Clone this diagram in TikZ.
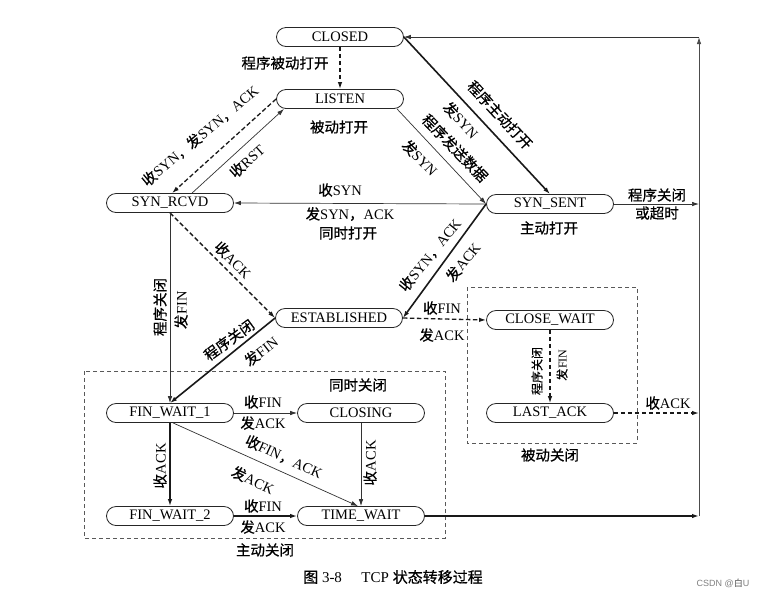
\documentclass[tikz,border=0pt]{standalone}
\usepackage{fontspec}
\setmainfont{Liberation Serif}
\newfontfamily\cjk[FakeBold=0.6]{Noto Sans CJK SC}
\newfontfamily\lsans{Liberation Sans}
\usetikzlibrary{arrows.meta}
\newcommand{\zh}[1]{{\cjk #1}}
\newcommand{\fsA}{\fontsize{14.5}{16}\selectfont}
\newcommand{\fsB}{\fontsize{12}{13}\selectfont}
\begin{document}
\begin{tikzpicture}[x=1pt,y=1pt,
  st/.style={draw=black!85, line width=0.8pt, rounded corners=9.5pt, minimum width=127pt, minimum height=19pt, inner sep=0pt, font=\fsA},
  tip/.style={-{Latex[length=7pt,width=4.5pt]}},
  thinl/.style={tip, line width=0.7pt, draw=black!80},
  thickl/.style={tip, line width=1.6pt, draw=black!90},
  dashl/.style={tip, line width=1.3pt, draw=black!90, dash pattern=on 4.5pt off 2.5pt},
  boxl/.style={draw=black!65, line width=0.8pt, dash pattern=on 4pt off 3pt},
  lab/.style={font=\fsA, inner sep=0pt},
  labs/.style={font=\fsB, inner sep=0pt}
]
\useasboundingbox (0,0) rectangle (765,-598);
\fill[white] (0,0) rectangle (765,-598);

% dashed group boxes
\draw[boxl] (84,-371) rectangle (445,-538);
\draw[boxl] (467,-287) rectangle (637,-443);

% states
\node[st] (closed) at (340,-37) {CLOSED};
\node[st] (listen) at (340,-99) {LISTEN};
\node[st] (synrcvd) at (170,-203) {SYN\_RCVD};
\node[st] (synsent) at (550,-204) {SYN\_SENT};
\node[st] (estab) at (339,-318) {ESTABLISHED};
\node[st] (closewait) at (550,-320) {CLOSE\_WAIT};
\node[st] (lastack) at (550,-413) {LAST\_ACK};
\node[st] (fin1) at (170,-413) {FIN\_WAIT\_1};
\node[st] (closing) at (361,-413) {CLOSING};
\node[st] (fin2) at (170,-516) {FIN\_WAIT\_2};
\node[st] (timewait) at (361,-516) {TIME\_WAIT};

% right-hand return line corners
\coordinate (rA) at (699,-204);
\coordinate (rB) at (699,-413);
\coordinate (rC) at (699,-516);
\coordinate (rT) at (699,-37);

% transitions
\draw[dashl] (closed.south) -- (listen.north);
\draw[dashl] (listen.west) -- ([xshift=2pt]synrcvd.north);
\draw[thinl] ([xshift=22pt]synrcvd.north) -- ([xshift=-56pt]listen.south);
\draw[thinl] ([xshift=57pt]listen.south) -- (synsent.west);
\draw[thickl] (closed.east) -- (synsent.north);
\draw[thinl] (synsent.west) -- (synrcvd.east);
\draw[dashl] (synrcvd.south) -- (estab.west);
\draw[thickl] (synsent.west) -- (estab.east);
\draw[thinl] (synrcvd.south) -- (fin1.north);
\draw[thickl] (estab.west) -- (fin1.north);
\draw[dashl] (estab.east) -- (closewait.west);
\draw[dashl, line width=1.1pt] (closewait.south) -- (lastack.north);
\draw[thinl] (synsent.east) -- (rA);
\draw[dashl] (lastack.east) -- (rB);
\draw[thickl] (timewait.east) -- (rC);
\draw[tip, line width=0.9pt, draw=black!70] (rC) -- (rT);
\draw[thinl] (rT) -- (closed.east);
\draw[thinl] (fin1.east) -- (closing.west);
\draw[thinl] ([xshift=3pt]fin1.south) -- ([xshift=-3pt]timewait.north);
\draw[thickl] (fin1.south) -- (fin2.north);
\draw[thinl] (closing.south) -- (timewait.north);
\draw[thickl] (fin2.east) -- (timewait.west);

% labels
\node[lab] (l1) at (285,-63) {\zh{程序被动打开}};
\node[lab] (l2) at (339,-127) {\zh{被动打开}};
\node[lab, rotate=40] (l3) at (200,-136) {\zh{收}SYN\zh{，发}SYN\zh{，}ACK};
\node[lab, rotate=42] (l4) at (247,-161) {\zh{收}RST};
\node[lab] (l5) at (340,-190) {\zh{收}SYN};
\node[lab] (l6) at (350,-214) {\zh{发}SYN\zh{，}ACK};
\node[lab] (l7) at (348,-233) {\zh{同时打开}};
\node[lab, rotate=-47] (l8) at (500,-115) {\zh{程序主动打开}};
\node[lab, rotate=-47] (l9) at (461,-120) {\zh{发}SYN};
\node[lab, rotate=-46] (l10) at (455,-148) {\zh{程序发送数据}};
\node[lab, rotate=-46] (l11) at (420,-158) {\zh{发}SYN};
\node[lab] (l12) at (657,-195) {\zh{程序关闭}};
\node[lab] (l13) at (657,-213) {\zh{或超时}};
\node[lab] (l14) at (549,-228) {\zh{主动打开}};
\node[lab, rotate=-45] (l15) at (233,-260) {\zh{收}ACK};
\node[lab, rotate=90] (l16) at (160,-307) {\zh{程序关闭}};
\node[lab, rotate=90] (l17) at (181,-310) {\zh{发}FIN};
\node[lab, rotate=36] (l18) at (229,-340) {\zh{程序关闭}};
\node[lab, rotate=38] (l19) at (261,-351) {\zh{发}FIN};
\node[lab, rotate=51] (l20) at (430,-255) {\zh{收}SYN\zh{，}ACK};
\node[lab, rotate=51] (l21) at (463,-262) {\zh{发}ACK};
\node[lab] (l22) at (442,-308) {\zh{收}FIN};
\node[lab] (l23) at (442,-335) {\zh{发}ACK};
\node[labs, rotate=90] (l24) at (537,-371) {\zh{程序关闭}};
\node[labs, rotate=90] (l25) at (562,-365) {\zh{发}FIN};
\node[lab] (l26) at (668,-403) {\zh{收}ACK};
\node[lab] (l27) at (550,-455) {\zh{被动关闭}};
\node[lab] (l28) at (358,-385) {\zh{同时关闭}};
\node[lab] (l29) at (263,-402) {\zh{收}FIN};
\node[lab] (l30) at (263,-423) {\zh{发}ACK};
\node[lab, rotate=-25] (l31) at (284,-457) {\zh{收}FIN\zh{，}ACK};
\node[lab, rotate=-25] (l32) at (253,-480) {\zh{发}ACK};
\node[lab, rotate=90] (l33) at (160,-466) {\zh{收}ACK};
\node[lab, rotate=90] (l34) at (370,-463) {\zh{收}ACK};
\node[lab] (l35) at (263,-506) {\zh{收}FIN};
\node[lab] (l36) at (263,-527) {\zh{发}ACK};
\node[lab] (l37) at (265,-550) {\zh{主动关闭}};

% caption
\node[font=\fontsize{15}{17}\selectfont, inner sep=0pt] (cap) at (393,-577) {\zh{图} 3-8\hspace{1.3em}TCP \zh{状态转移过程}};
\node[font=\fontsize{9}{10}\selectfont\lsans, text=black!50, inner sep=0pt] (wm) at (723,-583) {CSDN @{\cjk 白}U};
\end{tikzpicture}
\end{document}
